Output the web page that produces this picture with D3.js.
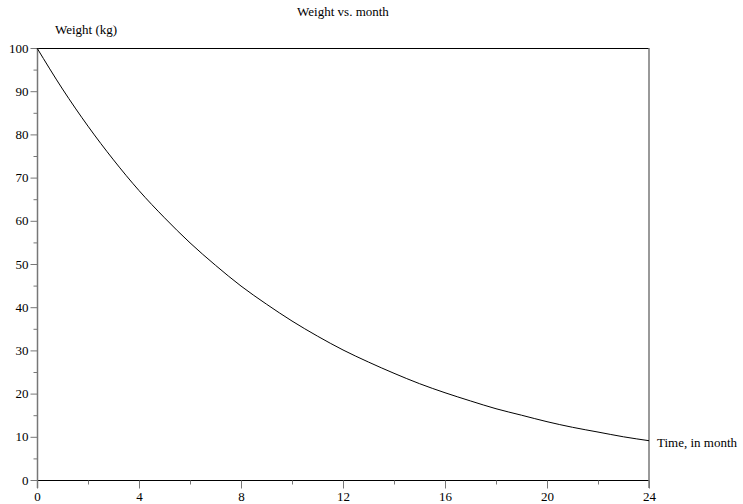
<!DOCTYPE html>
<html>
<head>
<meta charset="utf-8">
<script src="https://cdn.jsdelivr.net/npm/d3@7"></script>
<style>
  body { margin: 0; background: #fff; }
  svg text { font-family: "Liberation Serif", "Times New Roman", Times, "DejaVu Serif", serif !important; fill: #000; }
</style>
</head>
<body>
<div id="chart"></div>
<script>
// months and weight
const months = [0, 1, 2, 3, 4, 5, 6, 7, 8, 9, 10, 11, 12, 13, 14, 15, 16, 17, 18, 19, 20, 21, 22, 23, 24];
const weight = [100, 90.5, 81.9, 74.1, 67.0, 60.7, 54.9, 49.7, 44.9, 40.7, 36.8, 33.3, 30.1,
  27.3, 24.7, 22.3, 20.2, 18.3, 16.5, 15.0, 13.5, 12.2, 11.1, 10.0, 9.1];
const xTicks = [0, 4, 8, 12, 16, 20, 24];
const xMinor = [2, 6, 10, 14, 18, 22];
const yTicks = [0, 10, 20, 30, 40, 50, 60, 70, 80, 90, 100];
const yMinor = [5, 15, 25, 35, 45, 55, 65, 75, 85, 95];

const width = 743;
const height = 504;
const margin = { top: 48, right: 94, bottom: 24, left: 37 };
const fontSize = 13;

const svg = d3.select('#chart')
  .append('svg')
  .attr('width', width)
  .attr('height', height);

const x = d3.scaleLinear()
  .domain([0, 24])
  .range([margin.left, width - margin.right]);

const y = d3.scaleLinear()
  .domain([0, 100])
  .range([height - margin.bottom, margin.top]);

const grey = '#777';

// frame: top and bottom black, sides grey
svg.append('line')
  .attr('x1', x(0)).attr('x2', x(24))
  .attr('y1', y(100) + 0.5).attr('y2', y(100) + 0.5)
  .attr('stroke', '#000');
svg.append('line')
  .attr('x1', x(0)).attr('x2', x(24))
  .attr('y1', y(0) + 0.5).attr('y2', y(0) + 0.5)
  .attr('stroke', '#000');
svg.append('line')
  .attr('x1', x(24)).attr('x2', x(24))
  .attr('y1', y(100)).attr('y2', y(0) + 8)
  .attr('stroke', grey)
  .attr('stroke-width', 1.5);

// y axis
const yAxis = svg.append('g')
  .attr('transform', `translate(${x(0) + 0.5},0)`);
yAxis.call(d3.axisLeft(y).tickValues(yTicks).tickSize(7).tickPadding(2))
  .call((g) => g.select('.domain').remove());
yAxis.attr('font-family', null).attr('font-size', fontSize);
yAxis.selectAll('.tick line').attr('stroke', grey);
yAxis.selectAll('.minor')
  .data(yMinor)
  .enter()
  .append('line')
  .attr('x1', -4).attr('x2', 0)
  .attr('y1', (d) => y(d) + 0.5).attr('y2', (d) => y(d) + 0.5)
  .attr('stroke', grey);
yAxis.append('line')
  .attr('x1', 0).attr('x2', 0)
  .attr('y1', y(100)).attr('y2', y(0) + 8)
  .attr('stroke', grey)
  .attr('stroke-width', 1.5);

// x axis
const xAxis = svg.append('g')
  .attr('transform', `translate(0,${y(0) + 0.5})`);
xAxis.call(d3.axisBottom(x).tickValues(xTicks).tickSize(8).tickPadding(3))
  .call((g) => g.select('.domain').remove());
xAxis.attr('font-family', null).attr('font-size', fontSize);
xAxis.selectAll('.tick line').attr('stroke', grey);
xAxis.selectAll('.minor')
  .data(xMinor)
  .enter()
  .append('line')
  .attr('x1', (d) => x(d) + 0.5).attr('x2', (d) => x(d) + 0.5)
  .attr('y1', 0).attr('y2', 4)
  .attr('stroke', grey);

// curve
const line = d3.line()
  .x((d, i) => x(months[i]))
  .y((d) => y(d))
  .curve(d3.curveMonotoneX);

svg.append('path')
  .datum(weight)
  .attr('d', line)
  .attr('fill', 'none')
  .attr('stroke', '#000')
  .attr('stroke-width', 1);

// labels
svg.append('text')
  .attr('x', (x(0) + x(24)) / 2)
  .attr('y', 16)
  .attr('text-anchor', 'middle')
  .attr('font-size', 13)
  .text('Weight vs. month');

svg.append('text')
  .attr('x', 55)
  .attr('y', 34)
  .attr('font-size', 13)
  .text('Weight (kg)');

svg.append('text')
  .attr('x', x(24) + 8)
  .attr('y', y(weight[weight.length - 1]) + 6)
  .attr('font-size', 13)
  .text('Time, in month');
</script>
</body>
</html>
